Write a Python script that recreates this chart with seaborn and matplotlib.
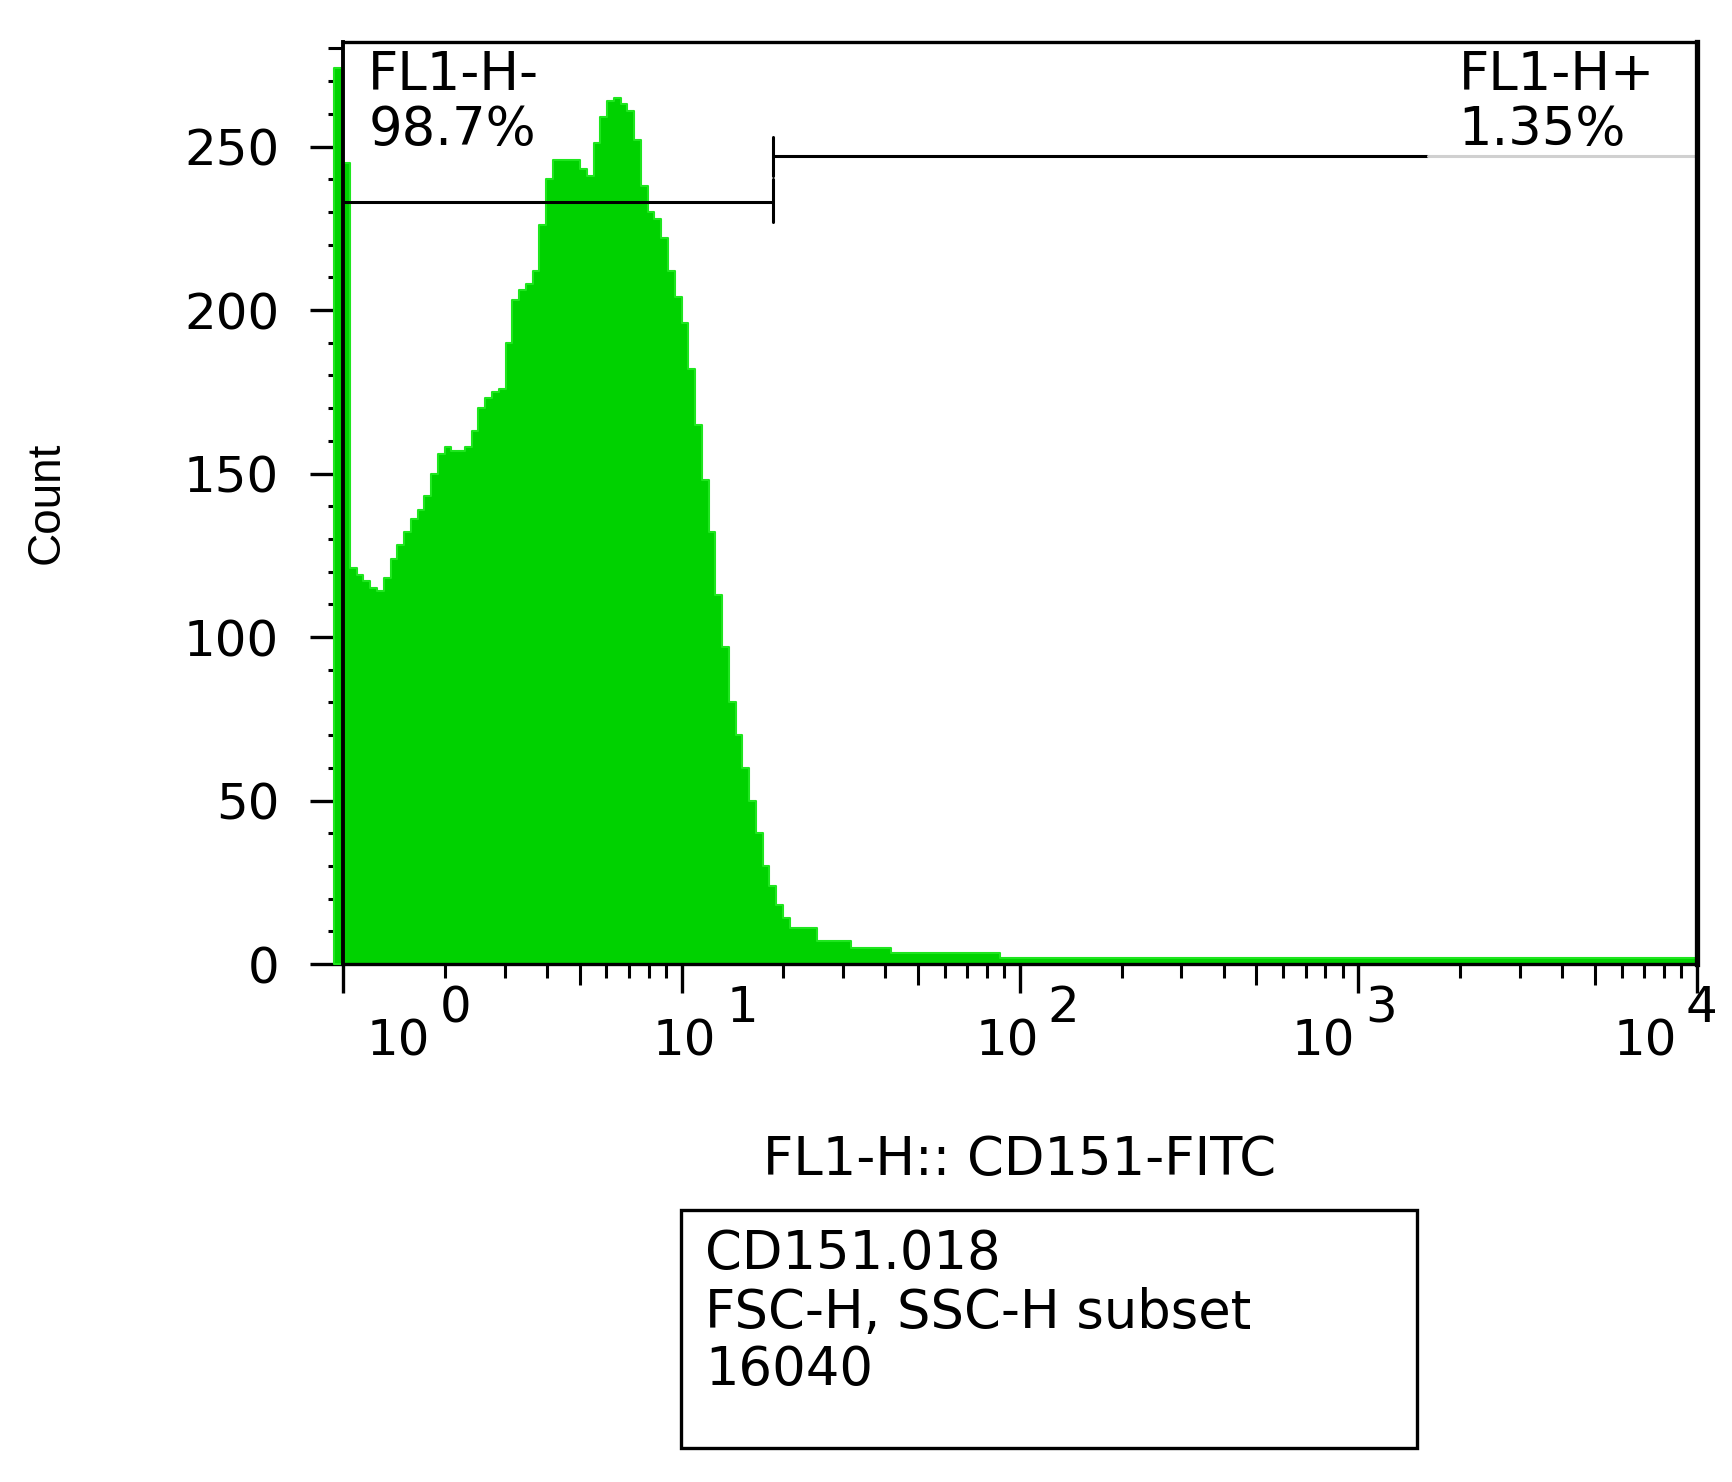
import numpy as np
import pandas as pd
import matplotlib
matplotlib.use("Agg")
import matplotlib.pyplot as plt
import matplotlib.transforms as mtransforms
from matplotlib.patches import Rectangle
from matplotlib.ticker import FixedLocator, MultipleLocator, NullFormatter
import seaborn as sns

# ---------------------------------------------------------
# DATA
# ---------------------------------------------------------
# bin edges in decades (log10 of FL1-H); first bin is the off-scale strip
fine_edges = list(np.round(np.arange(0, 1.321, 0.02), 3))
bin_edges_log = [-0.026] + fine_edges + [1.40, 1.50, 1.62, 1.94, 4.0]

counts = [274,
          245, 121, 119, 117, 115, 114, 118, 124, 128, 132,
          136, 139, 143, 150, 156, 158, 157, 157, 158, 163,
          170, 173, 175, 176, 190, 203, 206, 208, 212, 226,
          240, 246, 246, 246, 246, 243, 241, 251, 259, 264,
          265, 263, 261, 252, 238, 230, 228, 222, 212, 204,
          196, 182, 165, 148, 132, 113, 97, 80, 70, 60,
          50, 40, 30, 24, 18, 14,
          11, 7, 5, 3.5, 2]

decade_ticks = [1, 10, 100, 1000, 10000]
decade_exps = ["0", "1", "2", "3", "4"]

gate_split = 18.6          # boundary between FL1-H- and FL1-H+
gate_fade = 1607           # where the + gate line turns grey
neg_gate_y = 233
pos_gate_y = 247
gate_names = ["FL1-H-", "FL1-H+"]
gate_pcts = ["98.7%", "1.35%"]

info_lines = ["CD151.018", "FSC-H, SSC-H subset", "16040"]

# ---------------------------------------------------------
# PLOT
# ---------------------------------------------------------
sns.set_style("ticks")
plt.rcParams["font.family"] = ["DejaVu Sans"]
plt.rcParams["text.color"] = "black"
plt.rcParams["axes.labelcolor"] = "black"
plt.rcParams["xtick.color"] = "black"
plt.rcParams["ytick.color"] = "black"

fig = plt.figure(figsize=(17.33, 14.82), dpi=100)
ax = fig.add_axes([0.198, 0.3495, 0.781, 0.6222])

edges = np.array(bin_edges_log)
centers = (edges[:-1] + edges[1:]) / 2
df = pd.DataFrame({"FL1-H": 10 ** centers, "n": counts})
sns.histplot(data=df, x="FL1-H", weights="n", bins=list(edges), log_scale=True,
             element="step", fill=True, color="#00d200", edgecolor="#1ee61e",
             linewidth=1.5, alpha=1, ax=ax)
for art in list(ax.collections) + list(ax.lines) + list(ax.patches):
    art.set_clip_on(False)

ax.set_xlim(1, 1e4)
ax.set_ylim(0, 282)

for side, lw in [("bottom", 2.4), ("left", 2.8), ("top", 2.4), ("right", 3.8)]:
    ax.spines[side].set_visible(True)
    ax.spines[side].set_linewidth(lw)
    ax.spines[side].set_color("black")

# x axis: decades + minor ticks (5 medium)
minor_locs = [m * 10 ** k for k in range(4) for m in range(2, 10)]
ax.xaxis.set_major_locator(FixedLocator(decade_ticks))
ax.xaxis.set_minor_locator(FixedLocator(minor_locs))
ax.xaxis.set_major_formatter(NullFormatter())
ax.xaxis.set_minor_formatter(NullFormatter())
ax.tick_params(axis="x", which="major", length=21, width=2.4, direction="out")
ax.tick_params(axis="x", which="minor", length=10, width=2.2, direction="out")
mticks = ax.xaxis.get_minor_ticks(len(minor_locs))
for t, loc in zip(mticks, minor_locs):
    if str(loc).startswith("5"):
        t.tick1line.set_markersize(15)

# decade labels in FlowJo style: "10" with a full-size raised exponent
base_dx = [55, 3, -13, -35, -51]     # px offset of "10" centre from its tick
exp_dx = [97, 45, 28, 7, -11]        # px offset of exponent left edge
xtrans = mtransforms.blended_transform_factory(ax.transData, ax.transAxes)
for xv, ex, bdx, edx in zip(decade_ticks, decade_exps, base_dx, exp_dx):
    ax.text(xv, -0.0835, "10", fontsize=36, ha="center", va="center",
            transform=xtrans + mtransforms.ScaledTranslation(bdx / 100, 0, fig.dpi_scale_trans))
    ax.text(xv, -0.0477, ex, fontsize=36, ha="left", va="center",
            transform=xtrans + mtransforms.ScaledTranslation(edx / 100, 0, fig.dpi_scale_trans))

# y axis
ax.yaxis.set_major_locator(MultipleLocator(50))
ax.yaxis.set_minor_locator(MultipleLocator(10))
ax.tick_params(axis="y", which="major", length=24, width=2.4, pad=22,
               labelsize=36, direction="out")
ax.tick_params(axis="y", which="minor", length=11, width=2.2, direction="out")
zero = ax.yaxis.get_major_ticks()[0].label1
zero.set_transform(zero.get_transform() +
                   mtransforms.ScaledTranslation(0, 0.14, fig.dpi_scale_trans))

# gates
ax.plot([1, gate_split], [neg_gate_y, neg_gate_y], color="black", lw=2.2)
ax.plot([gate_split, gate_split], [neg_gate_y - 6, neg_gate_y + 7], color="black", lw=2.2)
ax.plot([gate_split, gate_fade], [pos_gate_y, pos_gate_y], color="black", lw=2.2)
ax.plot([gate_fade, 1e4], [pos_gate_y, pos_gate_y], color="#d0d0d0", lw=2.2)
ax.plot([gate_split, gate_split], [pos_gate_y - 6, pos_gate_y + 6], color="black", lw=2.2)

ax.text(0.0185, 0.964, gate_names[0], transform=ax.transAxes, va="center", fontsize=38)
ax.text(0.0185, 0.905, gate_pcts[0], transform=ax.transAxes, va="center", fontsize=38)
ax.text(0.824, 0.964, gate_names[1], transform=ax.transAxes, va="center", fontsize=38)
ax.text(0.824, 0.905, gate_pcts[1], transform=ax.transAxes, va="center", fontsize=38)

ax.set_ylabel("Count", fontsize=33, family=["Liberation Sans"])
ax.yaxis.set_label_coords(-0.219, 0.5)
ax.yaxis.label.set_va("center")
ax.set_xlabel("FL1-H:: CD151-FITC", fontsize=38)
ax.xaxis.set_label_coords(0.5, -0.2126)
ax.xaxis.label.set_va("center")

# sample info box
fig.add_artist(Rectangle((0.393, 0.0229), 0.4247, 0.1606, transform=fig.transFigure,
                         fill=False, lw=2.4, ec="black"))
for y, line in zip([0.1538, 0.114, 0.0756], info_lines):
    fig.text(0.4068, y, line, fontsize=38, va="center")

fig.savefig("out.png", dpi=100)
